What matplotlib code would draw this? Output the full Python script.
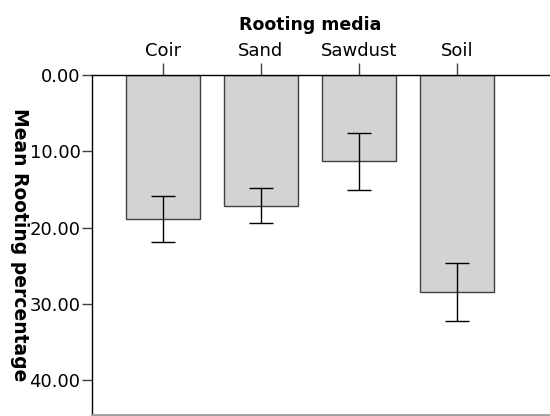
import numpy as np
import matplotlib
matplotlib.use("Agg")
import matplotlib.pyplot as plt
from matplotlib.ticker import FormatStrFormatter

# mean rooting percentage per medium, with error bar half-widths
media = ["Coir", "Sand", "Sawdust", "Soil"]
means = [18.8, 17.1, 11.3, 28.4]
errs = [3.0, 2.3, 3.75, 3.85]

fig = plt.figure(figsize=(5.5, 4.16), dpi=100)
ax = fig.add_axes([0.1678, 0.003, 0.8322, 0.8163])

x = np.arange(len(media))
ax.bar(x, means, width=0.75, color="#d3d3d3", edgecolor="#404040", linewidth=1, zorder=2)
ax.errorbar(x, means, yerr=errs, fmt="none", ecolor="black", elinewidth=1,
            capsize=8.9, capthick=1, zorder=3)

ax.set_xlim(-0.72, 3.95)
ax.set_ylim(44.5, 0)

ax.xaxis.tick_top()
ax.set_xticks(x)
ax.set_xticklabels(media, fontsize=13)
ax.xaxis.set_label_position("top")
ax.set_xlabel("Rooting media", fontsize=12.5, fontweight="bold")
ax.xaxis.set_label_coords(0.4757, 1.132)
ax.tick_params(axis="x", length=9, width=1, color="#404040", pad=2)

ax.set_yticks([0, 10, 20, 30, 40])
ax.yaxis.set_major_formatter(FormatStrFormatter("%.2f"))
ax.tick_params(axis="y", length=7.5, width=1, color="#404040", labelsize=13, pad=1)
ax.set_ylabel("Mean Rooting percentage", fontsize=13.5, fontweight="bold",
              rotation=270, va="center")
ax.yaxis.set_label_coords(-0.158, 0.5)

ax.spines["right"].set_visible(False)
ax.spines["top"].set_color("black")
ax.spines["top"].set_linewidth(1)
ax.spines["left"].set_color("black")
ax.spines["left"].set_linewidth(1)
ax.spines["bottom"].set_color("#a0a0a0")
ax.spines["bottom"].set_linewidth(2)

fig.savefig("out.png", dpi=100)
